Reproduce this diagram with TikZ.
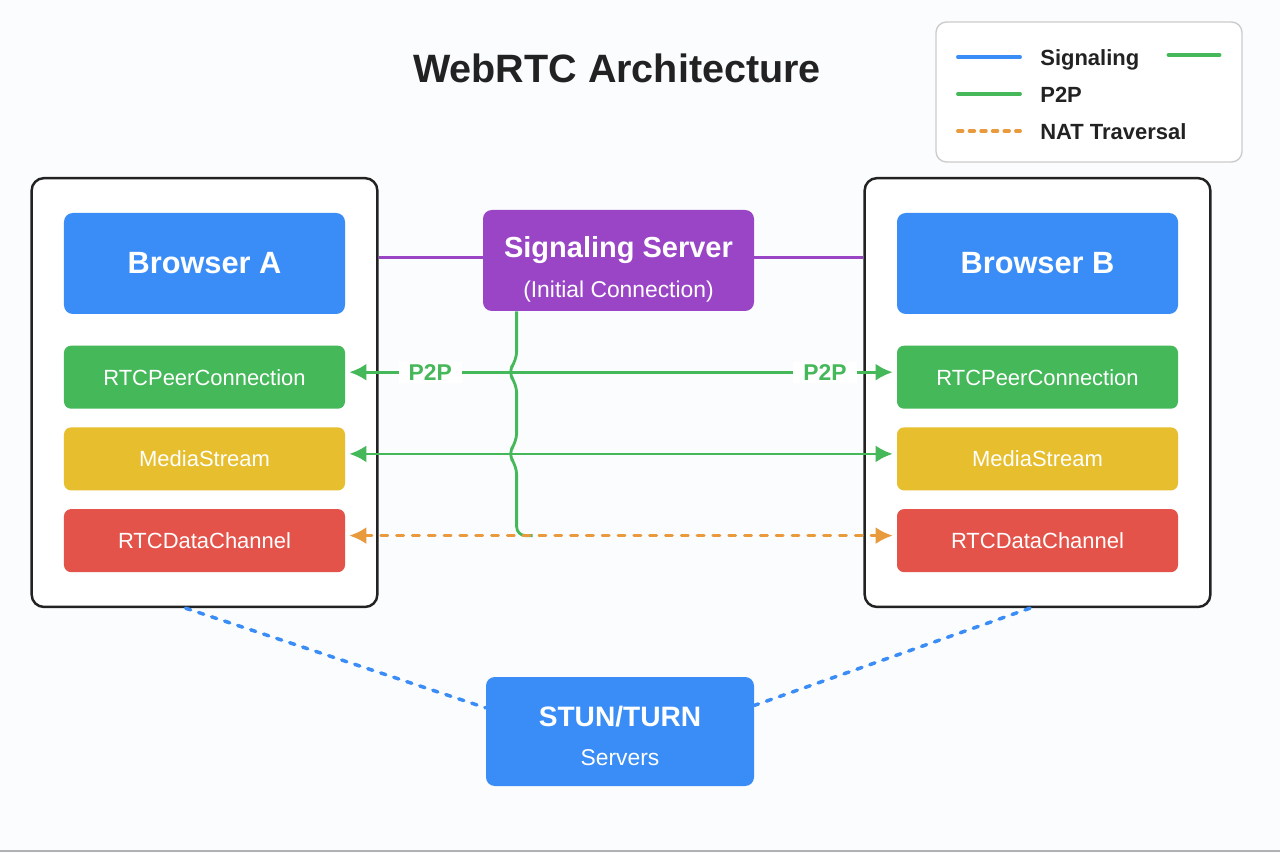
\documentclass[tikz,border=0pt]{standalone}
\usepackage{fontspec}
\setmainfont{Liberation Sans}
\usetikzlibrary{positioning,arrows.meta,calc,fit,backgrounds}

\definecolor{rtcblue}{HTML}{3A8DF6}
\definecolor{rtcgreen}{HTML}{45B85A}
\definecolor{rtcyellow}{HTML}{E7BE2D}
\definecolor{rtcred}{HTML}{E4534A}
\definecolor{rtcpurple}{HTML}{9A45C6}
\definecolor{rtcorange}{HTML}{E89A3C}
\definecolor{rtcink}{HTML}{222222}
\definecolor{rtcbg}{HTML}{FBFCFE}

\begin{document}
\begin{tikzpicture}[
  x=0.2mm, y=-0.2mm,
  font=\fontsize{12.5}{15}\selectfont,
  node distance=3.6mm and 12mm,
  brw/.style={
    rectangle, rounded corners=5pt, fill=rtcblue, text=white,
    minimum width=56.2mm, minimum height=20.2mm, align=center,
    font=\fontsize{17.5}{21}\selectfont\bfseries
  },
  comp/.style={
    rectangle, rounded corners=4pt, text=white,
    minimum width=56.2mm, minimum height=12.6mm, align=center
  },
  peer/.style={comp, fill=rtcgreen},
  media/.style={comp, fill=rtcyellow},
  data/.style={comp, fill=rtcred},
  srv/.style={
    rectangle, rounded corners=5pt, text=white, align=center,
    font=\fontsize{13}{22.5}\selectfont
  },
  cont/.style={
    rectangle, rounded corners=7pt, draw=rtcink, line width=1.4pt,
    fill=white, inner xsep=6.4mm, inner ysep=6.9mm
  },
  p2p/.style={draw=rtcgreen, line width=1.6pt},
  arr/.style={{Latex[length=3.4mm,width=3.4mm]}-{Latex[length=3.4mm,width=3.4mm]},
    shorten <=0.8mm, shorten >=0.8mm},
  nat/.style={draw=rtcorange, line width=1.6pt, line cap=round, dash pattern=on 4pt off 5pt},
  sig/.style={draw=rtcpurple, line width=1.6pt},
  stunline/.style={draw=rtcblue, line width=2pt, line cap=round, dash pattern=on 3pt off 4.8pt},
  lbl/.style={fill=white, text=rtcgreen, font=\fontsize{13}{15}\selectfont\bfseries,
    inner xsep=2mm, inner ysep=0.5mm},
  lgtext/.style={anchor=base west, inner sep=0pt, text=rtcink,
    font=\fontsize{12.5}{15}\selectfont\bfseries},
  legline/.style={line width=2.2pt, line cap=round}
]
\useasboundingbox (0,0) rectangle (1280,853);

% title
\node[text=rtcink, font=\fontsize{22.5}{27}\selectfont\bfseries] (title) at (617,68) {WebRTC Architecture};

% browser A
\node[brw] (brA) at (204.5,263.5) {Browser A};
\node[peer, below=6.2mm of brA] (peerA) {RTCPeerConnection};
\node[media, below=of peerA] (mediaA) {MediaStream};
\node[data, below=of mediaA] (dataA) {RTCDataChannel};

% browser B
\node[brw] (brB) at (1037.5,263.5) {Browser B};
\node[peer, below=6.2mm of brB] (peerB) {RTCPeerConnection};
\node[media, below=of peerB] (mediaB) {MediaStream};
\node[data, below=of mediaB] (dataB) {RTCDataChannel};

% servers
\node[srv, fill=rtcpurple, minimum width=54.2mm, minimum height=20.2mm] (sigsrv) at (618.5,260.5)
  {{\fontsize{16.5}{20}\selectfont\bfseries\rule{0pt}{22pt}Signaling Server}\\(Initial Connection)};
\node[srv, fill=rtcblue, minimum width=53.6mm, minimum height=21.8mm] (stun) at (620,731.5)
  {{\fontsize{16}{20}\selectfont\bfseries\rule{0pt}{16.5pt}STUN/TURN}\\Servers};

\begin{scope}[on background layer]
  \fill[rtcbg] (0,0) rectangle (1280,853);
  \node[cont, fit=(brA)(dataA)] (boxA) {};
  \node[cont, fit=(brB)(dataB)] (boxB) {};
\end{scope}

% signaling
\draw[sig] ([yshift=0.6mm]sigsrv.west) -- ([yshift=0.6mm]sigsrv.west -| boxA.east);
\draw[sig] ([yshift=0.6mm]sigsrv.east) -- ([yshift=0.6mm]sigsrv.east -| boxB.west);

% peer to peer
\coordinate (lnPeer) at ([yshift=1mm]peerA.east);
\coordinate (lnMedia) at ([yshift=1mm]mediaA.east);
\coordinate (lnData) at ([yshift=1mm]dataA.east);
\coordinate (busTop) at ($(sigsrv.south west)+(34,0)$);
\draw[p2p, rounded corners=5pt] (busTop) -- ($(busTop |- lnPeer)+(0,-12)$) -- ++(-9,12) -- ++(9,12)
  -- ($(busTop |- lnMedia)+(0,-12)$) -- ++(-9,12) -- ++(9,12)
  -- (busTop |- lnData) -- ++(16,0);
\draw[p2p, arr] (lnPeer) -- ([yshift=1mm]peerB.west)
  node[lbl, pos=0.154] {P2P} node[lbl, pos=0.87] {P2P};
\draw[p2p, arr] (lnMedia) -- ([yshift=1mm]mediaB.west);
\draw[nat, arr] (lnData) -- ([yshift=1mm]dataB.west);

% NAT traversal
\draw[stunline] (boxA.265.6) -- (stun.170);
\draw[stunline] (boxB.268) -- (stun.11);

% legend
\node[draw=gray!40, line width=0.8pt, rounded corners=6pt, fill=white,
  minimum width=61.2mm, minimum height=28mm] (legend) at (1089,92) {};
\node[lgtext] (lgSig) at (1040,65.5) {Signaling};
\node[lgtext] (lgP2P) at (1040,102.5) {P2P};
\node[lgtext] (lgNat) at (1040,139.5) {NAT Traversal};
\draw[legline, draw=rtcblue] ($(lgSig.base west)+(-82,-8.5)$) -- ++(62,0);
\draw[legline, draw=rtcgreen] ($(lgSig.base east)+(29,-10.5)$) -- ++(51,0);
\draw[legline, draw=rtcgreen] ($(lgP2P.base west)+(-82,-8.5)$) -- ++(62,0);
\draw[legline, draw=rtcorange, dash pattern=on 2.6pt off 4pt] ($(lgNat.base west)+(-82,-8.5)$) -- ++(62,0);

\draw[gray!60, line width=1pt] (0,851) -- (1280,851);
\end{tikzpicture}
\end{document}
